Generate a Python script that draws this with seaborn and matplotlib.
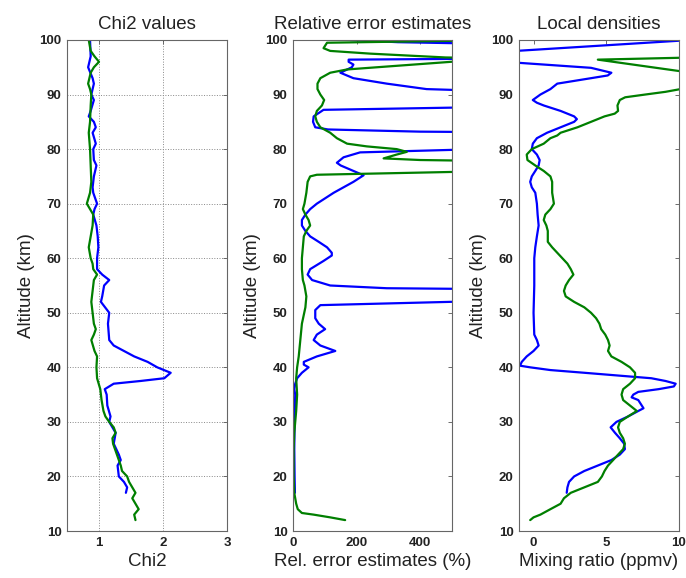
import matplotlib
matplotlib.use('Agg')

from matplotlib import pyplot as plt
import pandas as pd
import seaborn as sns


BLUE = '#0000ff'
GREEN = '#007f00'
OFF = 900  # values beyond the plotted x-range (curve leaves the panel)

# ---------------------------------------------------------------------------
# Chi2 values
alt_chi2_blue = [100, 97, 95, 93, 92, 90, 89, 87, 86, 85, 84, 83, 81, 80, 78,
                 77, 75, 73, 72, 70, 69, 68, 66, 64, 62, 60, 58, 57, 56, 55,
                 53, 52, 50, 48, 45, 44, 43, 42, 41, 40, 39, 38, 37.5, 37, 36,
                 35, 33, 31, 30, 28, 26, 24, 23, 22, 20, 19, 18, 17]
chi2_blue = [0.86, 0.87, 0.83, 0.90, 0.92, 0.88, 0.92, 0.87, 0.84, 0.92,
             0.95, 0.90, 0.95, 0.91, 0.92, 0.96, 0.92, 0.90, 0.91, 0.97,
             0.93, 0.91, 0.96, 0.98, 0.99, 0.97, 0.97, 1.05, 1.16, 1.08,
             1.05, 1.03, 1.16, 1.14, 1.16, 1.23, 1.39, 1.55, 1.76, 1.91,
             2.12, 2.02, 1.65, 1.23, 1.09, 1.12, 1.13, 1.18, 1.16, 1.26,
             1.23, 1.31, 1.34, 1.29, 1.31, 1.39, 1.44, 1.42]

alt_chi2_green = [100, 98, 97, 96, 95, 94, 92, 91, 90, 88, 85, 83, 80, 77, 74,
                  72, 70, 69, 68, 66, 64, 62, 60, 59, 58, 57, 56, 54, 52, 50,
                  48, 47, 46, 45, 43, 42, 40, 38, 36, 34, 32, 31, 30, 29, 28,
                  27, 26, 24, 22, 21, 20, 19, 18, 17, 16, 15, 14, 13, 12]
chi2_green = [0.84, 0.87, 0.93, 1.00, 0.92, 0.87, 0.83, 0.86, 0.88, 0.87,
              0.86, 0.84, 0.86, 0.87, 0.88, 0.86, 0.81, 0.86, 0.91, 0.90,
              0.87, 0.84, 0.87, 0.90, 0.91, 0.97, 0.92, 0.90, 0.88, 0.90,
              0.92, 0.95, 0.92, 0.88, 0.93, 0.97, 0.96, 0.97, 1.02, 1.04,
              1.07, 1.10, 1.16, 1.23, 1.26, 1.21, 1.22, 1.28, 1.34, 1.36,
              1.44, 1.47, 1.52, 1.57, 1.52, 1.57, 1.62, 1.55, 1.57]

# ---------------------------------------------------------------------------
# Relative error estimates (%)
alt_err_blue = [100, 99.6, 99.0, 96.7, 96.4, 96, 95.5, 95, 94, 93, 92, 91,
                90.5, 89, 88, 87.2, 86, 85, 84, 83.6, 83.2, 83, 80.5, 79.4,
                78.5, 77.5, 77, 76, 75.2, 74, 72, 70, 69, 68, 67, 66, 65, 64,
                63, 62, 61, 60.5, 59.5, 58, 57, 56, 55, 54.5, 54.2, 52.6,
                51.4, 50.5, 49, 48, 47, 46, 45, 44, 43, 42, 41, 40.5, 40, 39,
                38, 37, 36, 35, 30, 25, 20, 17]
err_blue = [180, 330, OFF, OFF, 175, 175, 190, 185, 149, 190, 295, 420,
            700, OFF, OFF, 96, 65, 63, 70, 110, 400, OFF, OFF, 211,
            159, 138, 150, 190, 222, 190, 128, 75, 54, 39, 28, 28, 39, 54,
            81, 107, 122, 122, 96, 54, 46, 60, 117, 295, OFF, OFF,
            86, 70, 70, 81, 101, 75, 65, 86, 133, 75, 34, 34, 49, 28,
            13, 7, 4, 7, 5, 4, 5, 6]

alt_err_green = [100.2, 99.5, 98.5, 98, 97.5, 96.8, 96.4, 96.1, 94.6, 94, 93,
                 92, 91, 90, 89, 88, 87, 86, 85, 84, 83, 82, 81, 80.5, 80,
                 79.5, 79, 78.3, 78, 77.6, 76.3, 75.3, 75, 74, 72, 70, 69, 68,
                 67, 66, 65, 64, 62, 60, 58, 56, 55, 53, 51, 48, 45, 42, 40,
                 38, 35, 32, 30, 28, 25, 20, 17, 15, 14, 13.3, 13, 12.5, 12]
err_green = [OFF, 107, 96, 117, 243, 480, OFF, 520, 170, 117, 86,
             77, 77, 86, 98, 91, 75, 70, 75, 86, 117, 138, 170, 232, 326,
             358, 326, 285, 400, OFF, OFF, 75, 54, 46, 42, 36, 31, 39,
             49, 54, 42, 34, 31, 28, 28, 31, 36, 42, 39, 28, 23, 18, 13,
             10, 13, 10, 7, 4, 2, 2, 4, 10, 15, 28, 65, 117, 164]

# ---------------------------------------------------------------------------
# Local densities (mixing ratio, ppmv)
alt_dens_blue = [100, 98, 96, 94.9, 94, 93.5, 93, 92, 91, 90, 89, 88.5, 88,
                 87, 86, 85.5, 85, 84, 83, 82, 81, 80, 79, 78, 77, 76, 75, 74,
                 73, 72, 70, 68, 66, 64, 62, 60, 55, 50, 46, 45, 44, 43, 42,
                 41, 40.3, 40, 39.5, 39, 38.5, 38, 37.5, 37, 36.5, 36, 35.5,
                 35, 34.5, 34, 33, 32.5, 32, 31, 30, 29, 28, 27, 26, 25, 24,
                 23, 22, 21, 20, 19, 18, 17]
dens_blue = [10.8, -1.2, -2, 3.95, 5.35, 5.1, 3.95, 1.63, 1.16, 0.47, -0.05,
             0.23, 0.7, 1.86, 2.79, 2.98, 2.79, 1.86, 0.93, 0.23, -0.05,
             -0.12, 0.23, 0.42, 0.35, 0.12, -0.12, -0.23, -0.12, 0.12, 0.23,
             0.28, 0.35, 0.23, 0.12, 0.05, 0.05, 0.0, 0.05, 0.23, 0.35, 0.0,
             -0.47, -0.81, -0.93, -0.23, 1.16, 3.5, 5.8, 8.1, 9.07, 9.77,
             9.65, 8.6, 7.2, 6.86, 6.74, 7.2, 7.44, 7.56, 7.2, 6.5, 5.7, 5.3,
             5.6, 5.93, 6.23, 6.28, 5.93, 5.35, 4.42, 3.49, 2.79, 2.44, 2.33,
             2.28]

alt_dens_green = [100, 96.8, 96.4, 94.2, 93, 92.5, 91.0, 90.5, 90, 89.5, 89,
                  88, 87, 86.5, 86, 85, 84, 83, 82.5, 82, 81, 80, 79, 78, 77,
                  76, 75, 74, 72, 70, 69, 68, 67, 66, 65, 63, 62, 61, 60, 59,
                  58, 57, 56, 55, 54, 53, 52, 51, 50, 49, 48, 47, 46, 45, 44,
                  43, 42, 41, 40, 39, 38, 37, 36, 35, 34, 33, 32, 31, 30, 29,
                  28, 27, 26, 25, 24, 23, 22, 21, 20, 19, 18, 17, 16, 15, 14,
                  13, 12.5, 12]
dens_green = [14, 11, 4.42, 10.3, 14, 14, 10.1, 9.07, 7.67, 6.3, 5.93, 5.77,
              5.81, 5.58, 4.88, 3.95, 3.02, 1.86, 1.63, 1.16, 0.7, -0.12,
              -0.47, -0.42, 0.12, 0.7, 1.16, 1.28, 1.28, 1.4, 1.16, 0.81, 0.7,
              0.88, 0.98, 0.98, 1.28, 1.63, 1.98, 2.33, 2.56, 2.74, 2.44, 2.21,
              2.09, 2.21, 2.79, 3.49, 3.95, 4.3, 4.53, 4.65, 4.93, 5.12, 5.23,
              5.12, 5.35, 6.05, 6.63, 6.98, 6.98, 6.63, 6.16, 6.05, 6.16, 6.63,
              7.1, 6.5, 5.93, 5.81, 5.93, 6.16, 6.28, 6.16, 5.81, 5.47, 5.12,
              4.88, 4.7, 4.42, 3.49, 2.56, 2.09, 1.86, 1.16, 0.47, 0.0, -0.23]

PANELS = [
    dict(title='Chi2 values', xlabel='Chi2', xlim=(0.5, 3), xticks=[1, 2, 3],
         grid=True,
         blue=(chi2_blue, alt_chi2_blue), green=(chi2_green, alt_chi2_green)),
    dict(title='Relative error estimates', xlabel='Rel. error estimates (%)',
         xlim=(0, 500), xticks=[0, 200, 400], grid=False,
         blue=(err_blue, alt_err_blue), green=(err_green, alt_err_green)),
    dict(title='Local densities', xlabel='Mixing ratio (ppmv)',
         xlim=(-1, 10), xticks=[0, 5, 10], grid=False,
         blue=(dens_blue, alt_dens_blue), green=(dens_green, alt_dens_green)),
]

AX_POS = [
    [67 / 686, 47 / 578, 160 / 686, 491 / 578],
    [293 / 686, 47 / 578, 159 / 686, 491 / 578],
    [519 / 686, 47 / 578, 160 / 686, 491 / 578],
]


def draw_panel(ax, panel):
    for key, color in (('blue', BLUE), ('green', GREEN)):
        x, y = panel[key]
        df = pd.DataFrame({'x': x, 'alt': y})
        sns.lineplot(data=df, x='x', y='alt', sort=False, estimator=None,
                     color=color, linewidth=1.6, ax=ax)

    ax.set_xlim(panel['xlim'])
    ax.set_ylim(10, 100)
    ax.set_xticks(panel['xticks'])
    ax.set_yticks(range(10, 101, 10))
    ax.tick_params(direction='in', top=True, right=True, length=3,
                   width=0.6, color='#555555', labelsize=9.5, pad=4)
    for lab in ax.get_xticklabels() + ax.get_yticklabels():
        lab.set_fontweight('bold')
        lab.set_color('#222222')
    for sp in ax.spines.values():
        sp.set_color('#666666')
        sp.set_linewidth(0.8)

    if panel['grid']:
        ax.grid(True, linestyle=':', color='#888888', linewidth=0.7)
    else:
        ax.grid(False)

    ax.set_title(panel['title'], fontsize=13.5, pad=8, color='#222222')
    ax.set_xlabel(panel['xlabel'], fontsize=13.5, labelpad=3, color='#222222')
    ax.set_ylabel('Altitude (km)', fontsize=13.5, labelpad=3, color='#222222')


def main():
    sns.set_style('white')
    plt.rcParams['font.family'] = ['Liberation Sans', 'DejaVu Sans']

    fig = plt.figure(figsize=(6.86, 5.78), dpi=100)
    for pos, panel in zip(AX_POS, PANELS):
        ax = fig.add_axes(pos)
        draw_panel(ax, panel)

    fig.savefig('out.png', dpi=100, facecolor='white')


if __name__ == '__main__':
    main()
